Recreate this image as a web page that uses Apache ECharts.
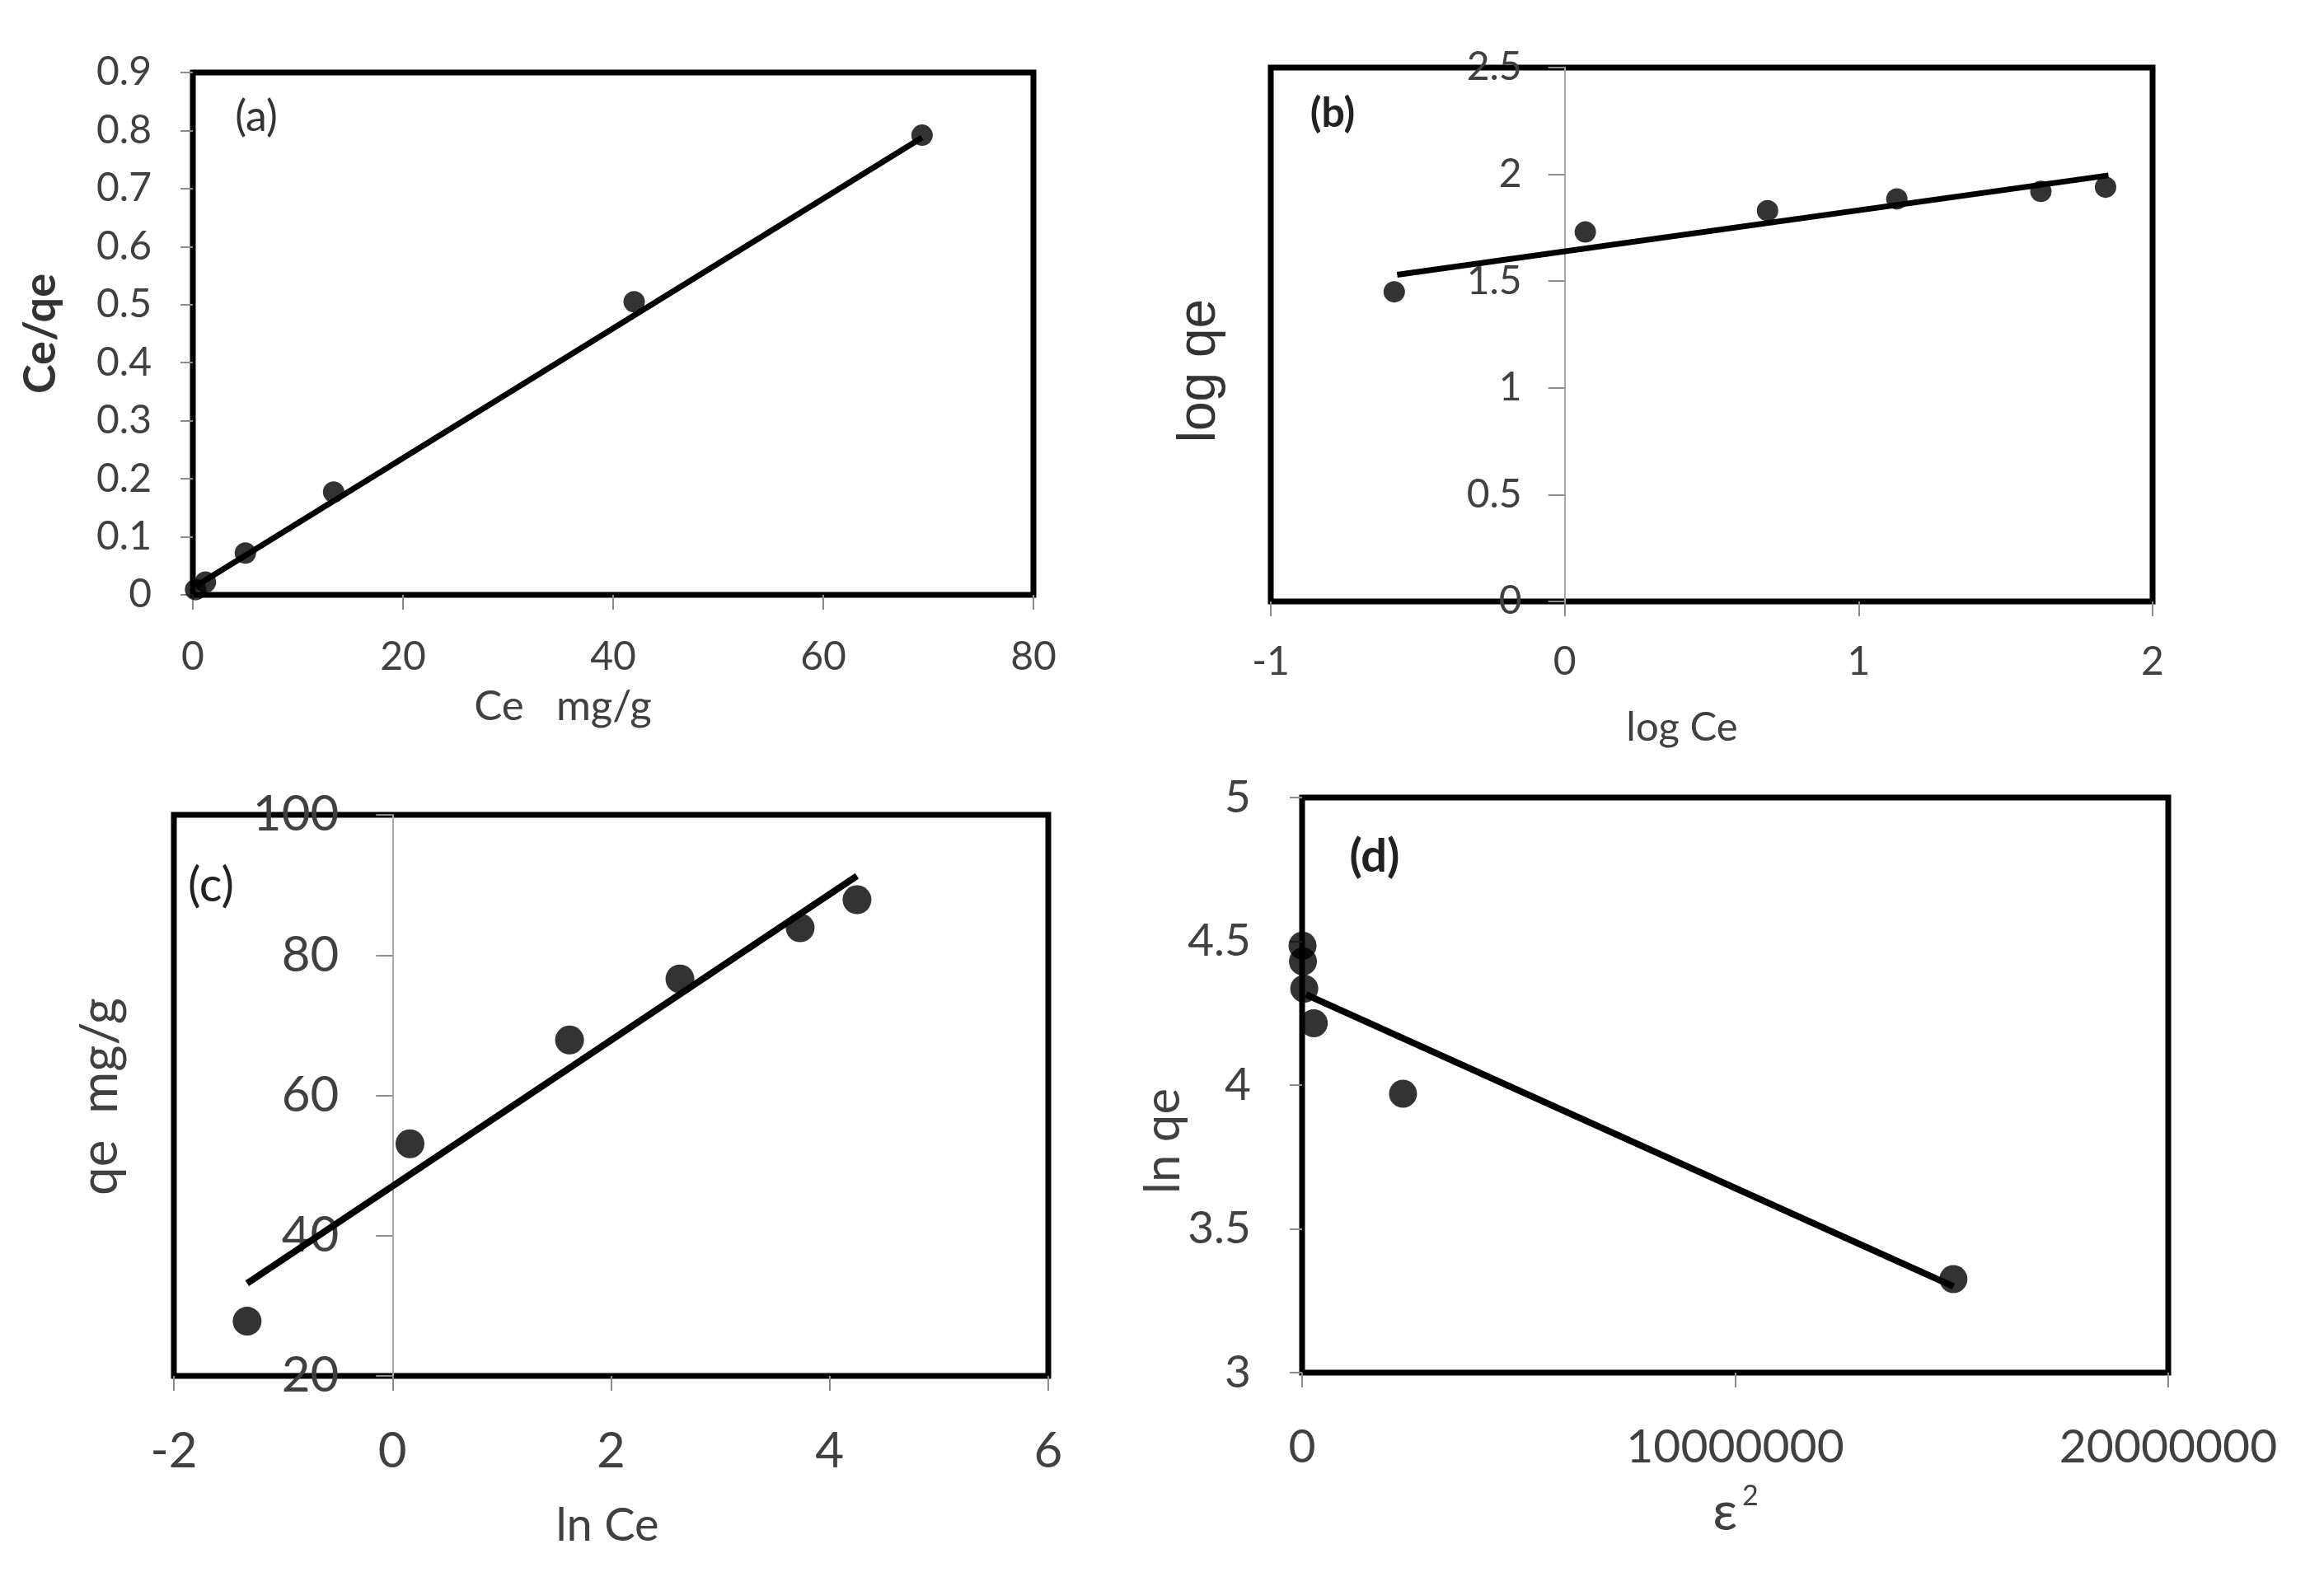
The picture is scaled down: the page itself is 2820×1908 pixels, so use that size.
<!DOCTYPE html>
<html>
<head>
<meta charset="utf-8">
<script src="https://cdn.jsdelivr.net/npm/echarts@6/dist/echarts.min.js"></script>
<style>
  html, body { margin: 0; padding: 0; background: #fff; }
  #main { width: 2820px; height: 1908px; }
</style>
</head>
<body>
<div id="main"></div>
<script>
// (a) Langmuir: Ce/qe vs Ce
var aCe = [0.26, 1.2, 5.0, 13.4, 42.0, 69.4];
var aRatio = [0.009, 0.022, 0.072, 0.177, 0.505, 0.792];
var aFitX = [0.26, 69.4];
var aFitY = [0.015, 0.788];

// (b) Freundlich: log qe vs log Ce
var bLogCe = [-0.58, 0.07, 0.69, 1.13, 1.62, 1.84];
var bLogQe = [1.45, 1.73, 1.83, 1.885, 1.92, 1.94];
var bFitX = [-0.57, 1.85];
var bFitY = [1.53, 1.995];

// (c) Temkin: qe vs ln Ce
var cLnCe = [-1.33, 0.16, 1.62, 2.63, 3.73, 4.25];
var cQe = [27.8, 53.1, 67.9, 76.6, 83.9, 87.9];
var cFitX = [-1.33, 4.25];
var cFitY = [33.2, 91.3];

// (d) D-R: ln qe vs eps^2
var dEps2 = [10000, 20000, 50000, 270000, 2330000, 15040000];
var dLnQe = [4.485, 4.43, 4.335, 4.215, 3.97, 3.325];
var dFitX = [90000, 15040000];
var dFitY = [4.315, 3.3];

function pairs(xs, ys) {
    var out = [];
    for (var i = 0; i < xs.length; i++) out.push([xs[i], ys[i]]);
    return out;
}

var FONT = 'Lato, "Open Sans", sans-serif';
var LABEL = '#404040';
var TICK = '#8c8c8c';

// 四个面板的绘图区 (left, top, width, height)
var boxes = [
    { left: 234, top: 88, width: 1020, height: 634 },
    { left: 1542, top: 82, width: 1070, height: 648 },
    { left: 211, top: 989, width: 1061, height: 681 },
    { left: 1580, top: 968, width: 1051, height: 698 }
];

// 坐标轴生成
function xAx(idx, min, max, step, fs, margin) {
    return {
        type: 'value', gridIndex: idx, min: min, max: max, interval: step,
        axisLine: { show: false, onZero: false },
        axisTick: { show: true, inside: false, length: 18, lineStyle: { color: TICK, width: 2 } },
        axisLabel: { color: LABEL, fontSize: fs, fontFamily: FONT, margin: margin,
            formatter: function (v) { return String(v); } },
        splitLine: { show: false }
    };
}
// xMin/xMax 给出时，纵轴画在横轴 0 处（Excel 风格）
function yAx(idx, min, max, step, fs, margin, xMin, xMax) {
    var zero = xMin !== undefined;
    var off = zero ? -boxes[idx].width * (0 - xMin) / (xMax - xMin) : 0;
    return {
        type: 'value', gridIndex: idx, min: min, max: max, interval: step, offset: off,
        axisLine: zero
            ? { show: true, onZero: false, lineStyle: { color: '#a6a6a6', width: 2 } }
            : { show: false, onZero: false },
        axisTick: { show: true, inside: false, length: zero ? 20 : 15, lineStyle: { color: TICK, width: 2 } },
        axisLabel: { color: LABEL, fontSize: fs, fontFamily: FONT, margin: margin,
            formatter: function (v) { return String(v); } },
        splitLine: { show: false }
    };
}
function dots(idx, xs, ys, size) {
    return { type: 'scatter', xAxisIndex: idx, yAxisIndex: idx, data: pairs(xs, ys),
        symbol: 'circle', symbolSize: size, itemStyle: { color: '#000' }, z: 3, silent: true };
}
function fit(idx, xs, ys, w) {
    return { type: 'line', xAxisIndex: idx, yAxisIndex: idx, data: pairs(xs, ys),
        showSymbol: false, symbol: 'none', lineStyle: { color: '#000', width: w }, z: 2, silent: true };
}
function txt(x, y, s, fs, opt) {
    opt = opt || {};
    var st = { text: s, fontSize: fs, fontFamily: opt.family || FONT, fontWeight: opt.weight || 'normal',
        fill: opt.color || LABEL, align: 'center', verticalAlign: 'middle' };
    if (opt.rich) st.rich = opt.rich;
    return { type: 'text', x: x, y: y, rotation: opt.rot || 0, z: 10, style: st };
}

function gridOf(b) {
    return { left: b.left, top: b.top, width: b.width, height: b.height,
        show: true, borderColor: '#000', borderWidth: 7, backgroundColor: '#fff', outerBoundsMode: 'none' };
}

var myChart = echarts.init(document.getElementById('main'), null, { renderer: 'canvas' });

var option = {
    backgroundColor: '#fff',
    animation: false,
    grid: boxes.map(gridOf),
    xAxis: [
        xAx(0, 0, 80, 20, 48, 52),
        xAx(1, -1, 2, 1, 48, 50),
        xAx(2, -2, 6, 2, 60, 62),
        xAx(3, 0, 20000000, 10000000, 57, 62)
    ],
    yAxis: [
        yAx(0, 0, 0.9, 0.1, 48, 50),
        yAx(1, 0, 2.5, 0.5, 48, 52, -1, 2),
        yAx(2, 20, 100, 20, 60, 65, -2, 6),
        yAx(3, 3, 5, 0.5, 55, 62)
    ],
    series: [
        fit(0, aFitX, aFitY, 7),
        dots(0, aCe, aRatio, 26),
        fit(1, bFitX, bFitY, 7),
        dots(1, bLogCe, bLogQe, 26),
        fit(2, cFitX, cFitY, 8),
        dots(2, cLnCe, cQe, 35),
        fit(3, dFitX, dFitY, 8),
        dots(3, dEps2, dLnQe, 34)
    ],
    graphic: [
        // 面板标号
        txt(311, 142, '(a)', 52, { color: '#333' }),
        txt(1617, 138, '(b)', 50, { weight: 'bold', color: '#222' }),
        txt(256, 1075, '(c)', 58, { color: '#222' }),
        txt(1668, 1040, '(d)', 56, { weight: 'bold', color: '#222' }),
        // 轴标题
        txt(683, 858, 'Ce   mg/g', 51),
        txt(50, 405, 'Ce/qe', 54, { rot: Math.PI / 2, weight: 'bold', color: '#333' }),
        txt(2041, 883, 'log Ce', 49),
        txt(1456, 450, 'log qe', 64, { rot: Math.PI / 2, family: '"Liberation Sans", Arial, sans-serif', color: '#333' }),
        txt(737, 1852, 'ln Ce', 56),
        txt(122, 1331, 'qe  mg/g', 62, { rot: Math.PI / 2 }),
        txt(2106, 1836, '{e|ε}{s|2}', 64, { rich: {
            e: { fontSize: 66, fontFamily: FONT, fill: LABEL },
            s: { fontSize: 34, fontFamily: FONT, fill: LABEL, padding: [0, 0, 40, 6] }
        } }),
        txt(1412, 1385, 'ln qe', 60, { rot: Math.PI / 2 })
    ]
};

myChart.setOption(option);
window.addEventListener('resize', function () {
    myChart.resize();
});
</script>
</body>
</html>
